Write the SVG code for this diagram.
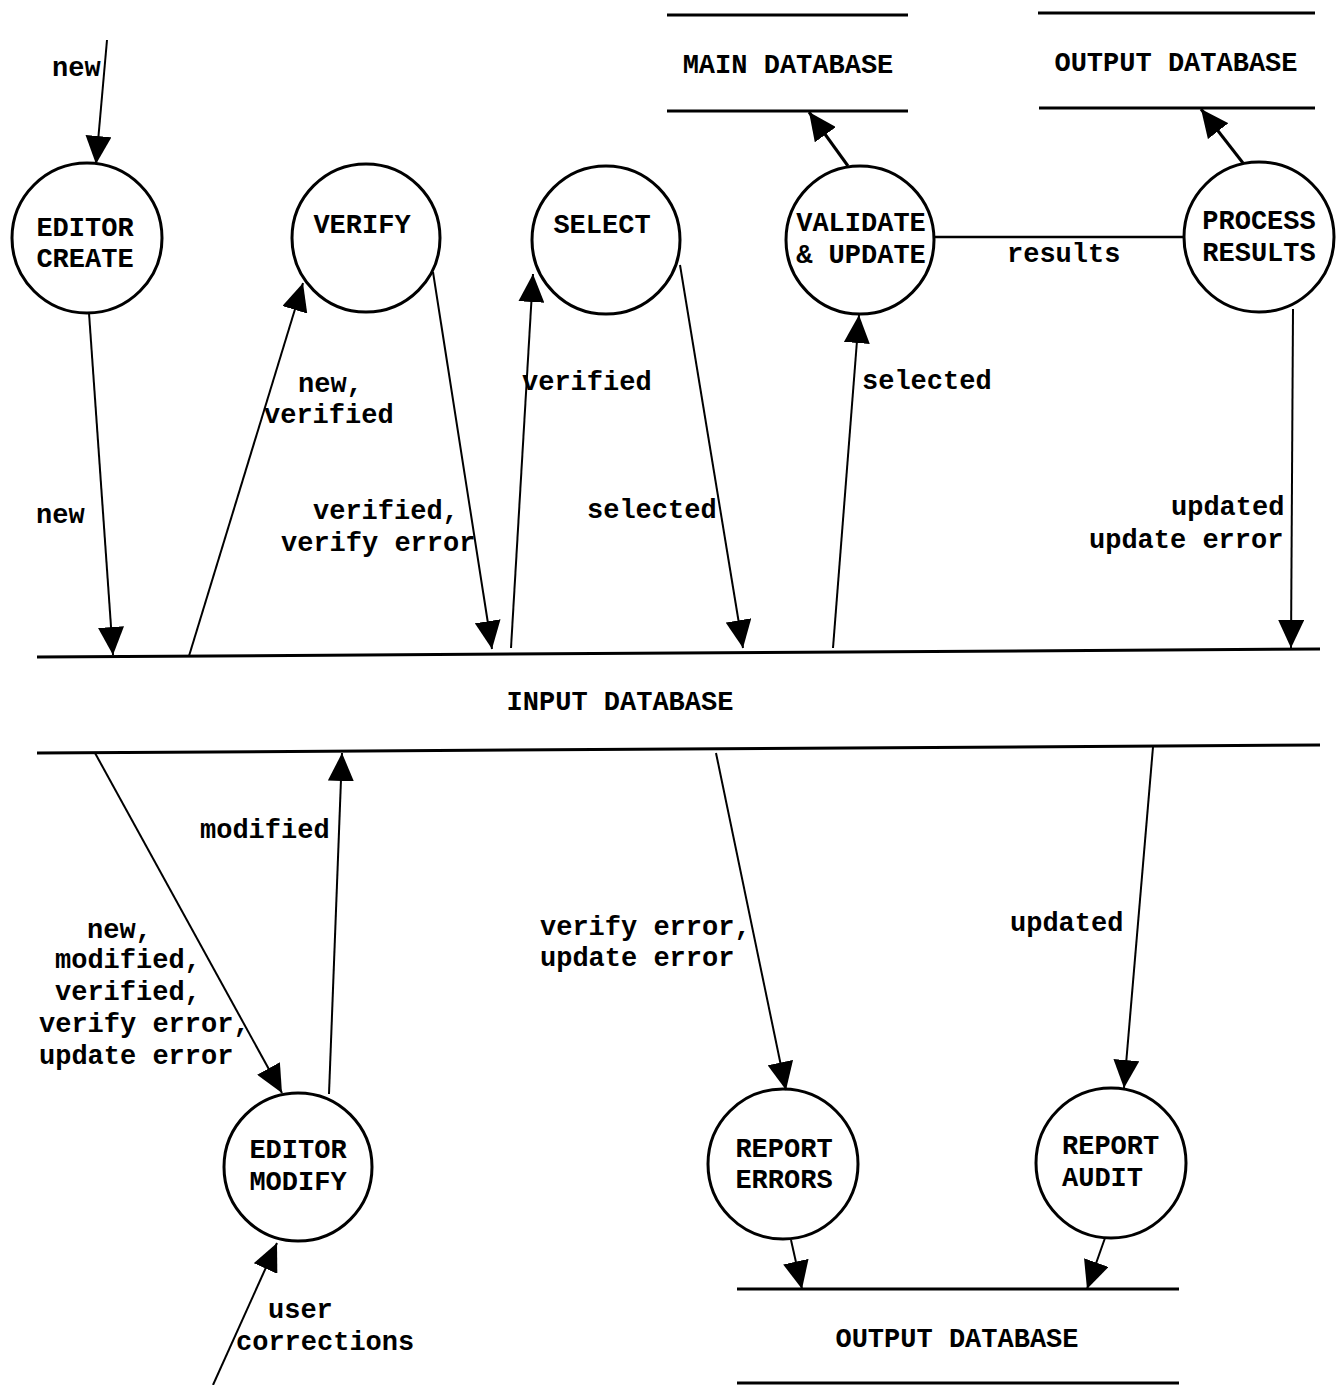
<svg xmlns="http://www.w3.org/2000/svg" width="1340" height="1385" viewBox="0 0 1340 1385">
  <style>
    .bg { fill: #ffffff; }
    .proc { fill: #ffffff; stroke: #000; stroke-width: 3; }
    .store { stroke: #000; stroke-width: 3; fill: none; }
    .flow { stroke: #000; stroke-width: 2; fill: none; marker-end: url(#arrow); }
    .flow-thick { stroke: #000; stroke-width: 3; fill: none; marker-end: url(#arrow); }
    .plain { stroke: #000; stroke-width: 2.5; fill: none; }
    text { font-family: "Liberation Mono", "Courier New", monospace; font-weight: bold; font-size: 27px; fill: #000; }
    .node { text-anchor: middle; }
    .lbl { text-anchor: start; }
  </style>
  <defs>
    <marker id="arrow" viewBox="0 0 28 26" refX="28" refY="13" markerWidth="28" markerHeight="26" markerUnits="userSpaceOnUse" orient="auto">
      <path d="M0,0 L28,13 L0,26 z" fill="#000"/>
    </marker>
  </defs>
  <rect class="bg" x="0" y="0" width="1340" height="1385"/>

  <!-- data stores (open rectangles: two horizontal rules) -->
  <g id="main-database">
    <line class="store" x1="667" y1="15" x2="908" y2="15"/>
    <line class="store" x1="667" y1="111" x2="908" y2="111"/>
    <text class="node" x="788" y="73">MAIN DATABASE</text>
  </g>
  <g id="output-database-top">
    <line class="store" x1="1038" y1="13" x2="1315" y2="13"/>
    <line class="store" x1="1039" y1="108" x2="1315" y2="108"/>
    <text class="node" x="1176" y="71">OUTPUT DATABASE</text>
  </g>
  <g id="input-database">
    <line class="store" x1="37" y1="657" x2="1320" y2="649"/>
    <line class="store" x1="37" y1="753" x2="1320" y2="745"/>
    <text class="node" x="620" y="710">INPUT DATABASE</text>
  </g>
  <g id="output-database-bottom">
    <line class="store" x1="737" y1="1289" x2="1179" y2="1289"/>
    <line class="store" x1="737" y1="1383" x2="1179" y2="1383"/>
    <text class="node" x="957" y="1347">OUTPUT DATABASE</text>
  </g>

  <!-- processes -->
  <g id="editor-create">
    <circle class="proc" cx="87" cy="238" r="75"/>
    <text class="node" x="85" y="236">EDITOR</text>
    <text class="node" x="85" y="267">CREATE</text>
  </g>
  <g id="verify">
    <circle class="proc" cx="366" cy="238" r="74"/>
    <text class="node" x="362" y="233">VERIFY</text>
  </g>
  <g id="select">
    <circle class="proc" cx="606" cy="240" r="74"/>
    <text class="node" x="602" y="233">SELECT</text>
  </g>
  <g id="validate-update">
    <circle class="proc" cx="860" cy="240" r="74"/>
    <text class="node" x="861" y="231">VALIDATE</text>
    <text class="node" x="861" y="263">&amp; UPDATE</text>
  </g>
  <g id="process-results">
    <circle class="proc" cx="1259" cy="237" r="75"/>
    <text class="node" x="1259" y="229">PROCESS</text>
    <text class="node" x="1259" y="261">RESULTS</text>
  </g>
  <g id="editor-modify">
    <circle class="proc" cx="298" cy="1167" r="74"/>
    <text class="node" x="298" y="1158">EDITOR</text>
    <text class="node" x="298" y="1190">MODIFY</text>
  </g>
  <g id="report-errors">
    <circle class="proc" cx="783" cy="1164" r="75"/>
    <text class="node" x="784" y="1157">REPORT</text>
    <text class="node" x="784" y="1188">ERRORS</text>
  </g>
  <g id="report-audit">
    <circle class="proc" cx="1111" cy="1163" r="75"/>
    <text class="lbl" x="1062" y="1154">REPORT</text>
    <text class="lbl" x="1062" y="1186">AUDIT</text>
  </g>

  <!-- data flows -->
  <g id="connectors">
    <line class="flow" x1="107" y1="40" x2="96" y2="164"/>
    <line class="flow" x1="89" y1="313" x2="113" y2="655"/>
    <line class="flow" x1="189" y1="656" x2="303" y2="283"/>
    <line class="flow" x1="433" y1="272" x2="492" y2="649"/>
    <line class="flow" x1="511" y1="648" x2="533" y2="274"/>
    <line class="flow" x1="680" y1="265" x2="743" y2="648"/>
    <line class="flow" x1="833" y1="648" x2="859" y2="315"/>
    <line class="flow" x1="1293" y1="309" x2="1291" y2="648"/>
    <line class="flow-thick" x1="848" y1="166" x2="809" y2="112"/>
    <line class="flow-thick" x1="1243" y1="163" x2="1201" y2="109"/>
    <line class="plain" x1="934" y1="237" x2="1184" y2="237"/>

    <line class="flow" x1="95" y1="753" x2="282" y2="1093"/>
    <line class="flow" x1="329" y1="1094" x2="342" y2="753"/>
    <line class="flow" x1="716" y1="753" x2="786" y2="1090"/>
    <line class="flow" x1="1153" y1="747" x2="1124" y2="1088"/>
    <line class="flow" x1="791" y1="1240" x2="802" y2="1289"/>
    <line class="flow" x1="1105" y1="1238" x2="1087" y2="1289"/>
    <line class="flow" x1="213" y1="1385" x2="277" y2="1243"/>
  </g>

  <!-- flow labels -->
  <g id="labels">
    <text class="lbl" x="52" y="76">new</text>
    <text class="lbl" x="36" y="523">new</text>
    <text class="lbl" x="298" y="392">new,</text>
    <text class="lbl" x="264" y="423">verified</text>
    <text class="lbl" x="313" y="519">verified,</text>
    <text class="lbl" x="281" y="551">verify error</text>
    <text class="lbl" x="522" y="390">verified</text>
    <text class="lbl" x="587" y="518">selected</text>
    <text class="lbl" x="862" y="389">selected</text>
    <text class="lbl" x="1007" y="262">results</text>
    <text class="lbl" x="1171" y="515">updated</text>
    <text class="lbl" x="1089" y="548">update error</text>
    <text class="lbl" x="200" y="838">modified</text>
    <text class="lbl" x="87" y="938">new,</text>
    <text class="lbl" x="55" y="968">modified,</text>
    <text class="lbl" x="55" y="1000">verified,</text>
    <text class="lbl" x="39" y="1032">verify error,</text>
    <text class="lbl" x="39" y="1064">update error</text>
    <text class="lbl" x="540" y="935">verify error,</text>
    <text class="lbl" x="540" y="966">update error</text>
    <text class="lbl" x="1010" y="931">updated</text>
    <text class="lbl" x="268" y="1318">user</text>
    <text class="lbl" x="236" y="1350">corrections</text>
  </g>
</svg>
